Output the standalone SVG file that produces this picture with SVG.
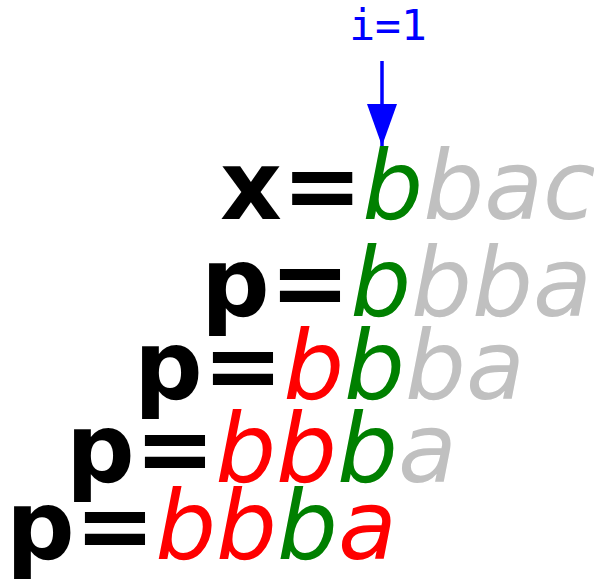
<svg xmlns="http://www.w3.org/2000/svg" width="594" height="579" viewBox="0 0 594 579">
<style>
.row{font-family:"DejaVu Sans",sans-serif;font-size:96px}
.k{font-weight:bold;fill:#000}
.v{font-style:italic}
.g{fill:#008000}
.s{fill:#c0c0c0}
.r{fill:#ff0000}
.lbl{font-family:"DejaVu Sans Mono",monospace;font-size:43px;fill:#0000ff}
</style>
<defs>
<marker id="ah" markerUnits="userSpaceOnUse" viewBox="0 0 42 30" refX="42" refY="15" markerWidth="42" markerHeight="30" orient="auto">
<path d="M0,0 L42,15 L0,30 Z" fill="#0000ff"/>
</marker>
</defs>
<g id="index-label"><text class="lbl" x="388" y="40" text-anchor="middle">i=1</text></g>
<g id="connectors"><line x1="382" y1="61" x2="382" y2="146" stroke="#0000ff" stroke-width="3.5" marker-end="url(#ah)"/></g>
<g id="row-x"><text class="row" x="220" y="219"><tspan class="k">x=</tspan><tspan class="v g">b</tspan><tspan class="v s">bac</tspan></text></g>
<g id="row-p1"><text class="row" x="201" y="316"><tspan class="k">p=</tspan><tspan class="v g">b</tspan><tspan class="v s">bba</tspan></text></g>
<g id="row-p2"><text class="row" x="134" y="399"><tspan class="k">p=</tspan><tspan class="v r">b</tspan><tspan class="v g">b</tspan><tspan class="v s">ba</tspan></text></g>
<g id="row-p3"><text class="row" x="66" y="482"><tspan class="k">p=</tspan><tspan class="v r">bb</tspan><tspan class="v g">b</tspan><tspan class="v s">a</tspan></text></g>
<g id="row-p4"><text class="row" x="6" y="559"><tspan class="k">p=</tspan><tspan class="v r">bb</tspan><tspan class="v g">b</tspan><tspan class="v r">a</tspan></text></g>
</svg>
